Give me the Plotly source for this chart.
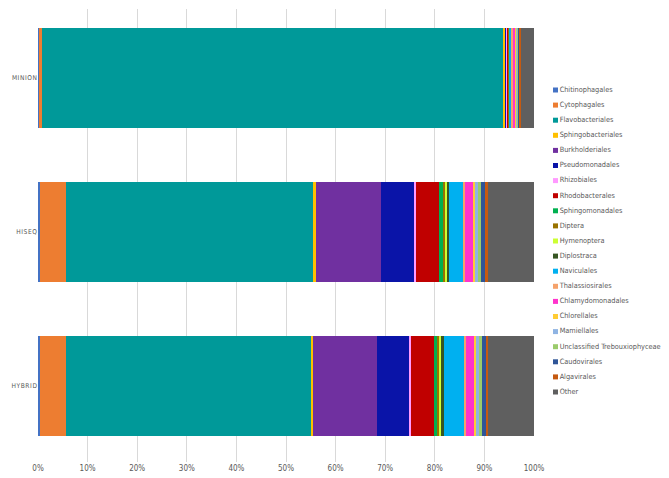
import plotly.graph_objects as go

samples = ["MINION", "HISEQ", "HYBRID"]

orders = [
    "Chitinophagales", "Cytophagales", "Flavobacteriales", "Sphingobacteriales",
    "Burkholderiales", "Pseudomonadales", "Rhizobiales", "Rhodobacterales",
    "Sphingomonadales", "Diptera", "Hymenoptera", "Diplostraca", "Naviculales",
    "Thalassiosirales", "Chlamydomonadales", "Chlorellales", "Mamiellales",
    "Unclassified Trebouxiophyceae", "Caudovirales", "Algavirales", "Other",
]

colors = [
    "#4472C4", "#ED7D31", "#009999", "#FFC000", "#7030A0", "#0A14A8", "#FF99FF",
    "#C00000", "#00B050", "#997300", "#CCFF33", "#375623", "#00B0F0", "#F5A26B",
    "#FF33CC", "#FFCC33", "#8FB4E3", "#9BCB6B", "#2F5597", "#C55A11", "#5F5F5F",
]

# relative abundance (%) per order: MINION, HISEQ, HYBRID
abundance = {
    "Chitinophagales": [0.3, 0.4, 0.5],
    "Cytophagales": [0.5, 5.2, 5.2],
    "Flavobacteriales": [93.1, 49.9, 49.3],
    "Sphingobacteriales": [0.3, 0.5, 0.5],
    "Burkholderiales": [0.2, 13.2, 12.9],
    "Pseudomonadales": [0.2, 6.7, 6.5],
    "Rhizobiales": [0.1, 0.4, 0.3],
    "Rhodobacterales": [0.2, 4.6, 4.6],
    "Sphingomonadales": [0.1, 0.7, 0.8],
    "Diptera": [0.05, 0.5, 0.4],
    "Hymenoptera": [0.05, 0.4, 0.4],
    "Diplostraca": [0.05, 0.4, 0.4],
    "Naviculales": [0.4, 2.8, 4.0],
    "Thalassiosirales": [0.2, 0.4, 0.5],
    "Chlamydomonadales": [0.6, 1.6, 1.6],
    "Chlorellales": [0.1, 0.5, 0.5],
    "Mamiellales": [0.2, 0.5, 0.5],
    "Unclassified Trebouxiophyceae": [0.2, 0.6, 0.6],
    "Caudovirales": [0.3, 0.9, 0.9],
    "Algavirales": [0.2, 0.5, 0.4],
    "Other": [2.7, 9.3, 9.2],
}

x_ticks = list(range(0, 101, 10))
x_labels = [f"{t}%" for t in x_ticks]
sample_labels = ["\u200a".join(s) for s in samples]

font_family = "DejaVu Sans Condensed, Liberation Sans Narrow, Liberation Sans, sans-serif"
text_color = "#595959"

# page has an 8px body margin, so the figure is sized to end at the window edge
W, H = 661, 470
L, R, T, B = 30, 0, 1, 16
plot_w = W - L - R
plot_h = H - T - B

fig = go.Figure()

for name, color in zip(orders, colors):
    fig.add_trace(
        go.Bar(
            x=abundance[name],
            y=samples,
            name=name,
            orientation="h",
            marker_color=color,
            marker_line_width=0,
            showlegend=False,
            xaxis="x",
            yaxis="y",
        )
    )

# legend drawn as a column of small square markers with labels
fig.add_trace(
    go.Scatter(
        x=[0] * len(orders),
        y=list(range(len(orders))),
        mode="markers+text",
        marker=dict(symbol="square", size=5, color=colors),
        text=orders,
        textposition="middle right",
        textfont=dict(family=font_family, size=7.3, color=text_color),
        showlegend=False,
        hoverinfo="skip",
        xaxis="x2",
        yaxis="y2",
        cliponaxis=False,
    )
)

legend_top = 82
legend_step = 15.1

fig.update_layout(
    width=W,
    height=H,
    barmode="stack",
    barnorm="percent",
    bargap=0.35,
    plot_bgcolor="white",
    paper_bgcolor="white",
    margin=dict(l=L, r=R, t=T, b=B, autoexpand=False),
    font=dict(family=font_family, size=8, color=text_color),
    xaxis=dict(
        domain=[0, 496 / plot_w],
        range=[0, 100],
        tickvals=x_ticks,
        ticktext=x_labels,
        showgrid=True,
        gridcolor="#D9D9D9",
        gridwidth=1,
        zeroline=False,
        showline=False,
        ticks="",
        tickfont=dict(size=8, color=text_color),
    ),
    yaxis=dict(
        range=[2.494, -0.448],
        ticks="",
        tickfont=dict(size=6.6, color=text_color),
        tickvals=samples,
        ticktext=sample_labels,
        showgrid=False,
        zeroline=False,
    ),
    xaxis2=dict(
        domain=[(547.5 - L) / plot_w, 1],
        range=[0, 10],
        visible=False,
        anchor="y2",
    ),
    yaxis2=dict(
        domain=[0, 1],
        range=[(plot_h + T - legend_top) / legend_step, (T - legend_top) / legend_step],
        visible=False,
        anchor="x2",
    ),
)

fig.write_html("out.html")
